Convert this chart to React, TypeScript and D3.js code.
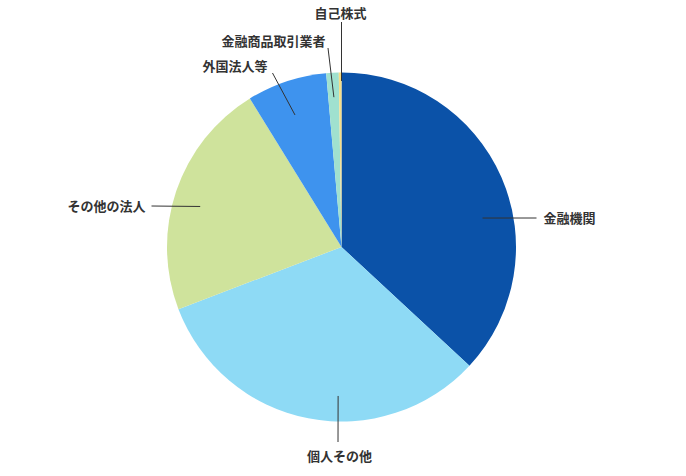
import React from 'react';
import * as d3 from 'd3';

// share of holders (%)
const categories = ['金融機関', '個人その他', 'その他の法人', '外国法人等', '金融商品取引業者', '自己株式'];
const values = [36.9, 32.3, 22.0, 7.4, 1.15, 0.25];
const colors = ['#0b52a8', '#8edaf5', '#cfe39c', '#3e93ee', '#a0e1cf', '#f6de88'];

// leader line layout: inner end in polar coords (deg, radius), outer end + text offsets from centre
const LABEL_LAYOUT = [
  { a: 78.4, r: 144, ex: 195, ey: -29, tx: 202, ty: -29, anchor: 'start' },
  { a: 181.3, r: 149, ex: -3.5, ey: 195, tx: -2, ty: 209, anchor: 'middle' },
  { a: 286, r: 147, ex: -190, ey: -41, tx: -196, ty: -41, anchor: 'end' },
  { a: 340.6, r: 140, ex: -69, ey: -174, tx: -74, ty: -181, anchor: 'end' },
  { a: 357.1, r: 150, ex: -13.5, ey: -199, tx: -68, ty: -206, anchor: 'middle' },
  { a: 0, r: 166, ex: 0, ey: -225, tx: -1, ty: -234, anchor: 'middle' },
];

const W = 686;
const H = 476;
const cx = 341.5;
const cy = 247;
const R = 174.5;

export default function App() {
  const pie = d3
    .pie<number>()
    .sort(null)
    .value((d) => d)
    .startAngle(0)
    .endAngle(2 * Math.PI);
  const arcs = pie(values);
  const arc = d3.arc<d3.PieArcDatum<number>>().innerRadius(0).outerRadius(R);

  const polar = (deg: number, r: number) => {
    const t = (deg * Math.PI) / 180;
    return [r * Math.sin(t), -r * Math.cos(t)];
  };

  return (
    <svg
      width={W}
      height={H}
      style={{ position: 'absolute', left: 0, top: 0, background: '#fff' }}
      fontFamily="'Noto Sans CJK JP', 'Noto Sans', sans-serif"
    >
      <g transform={`translate(${cx},${cy})`}>
        {arcs.map((d, i) => (
          <path key={categories[i]} d={arc(d) || ''} fill={colors[i]} />
        ))}
        {LABEL_LAYOUT.map((l, i) => {
          const [x0, y0] = polar(l.a, l.r);
          return (
            <g key={categories[i]}>
              <line x1={x0} y1={y0} x2={l.ex} y2={l.ey} stroke="#333" strokeWidth={1} />
              <text
                x={l.tx}
                y={l.ty}
                dy="0.35em"
                textAnchor={l.anchor as any}
                fontSize={13}
                fontWeight="bold"
                fill="#333"
              >
                {categories[i]}
              </text>
            </g>
          );
        })}
      </g>
    </svg>
  );
}
